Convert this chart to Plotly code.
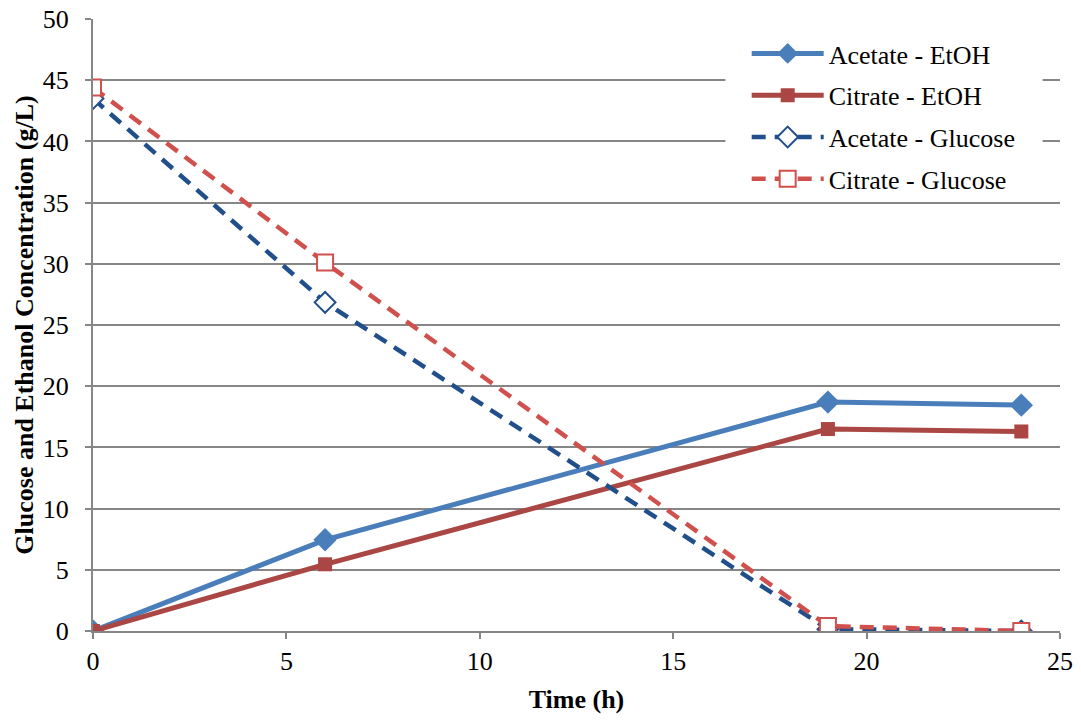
import plotly.graph_objects as go

time_h = [0, 6, 19, 24]
acetate_etoh = [0, 7.45, 18.7, 18.45]
citrate_etoh = [0, 5.45, 16.5, 16.3]
acetate_glucose = [43.5, 26.85, 0.15, 0]
citrate_glucose = [44.4, 30.1, 0.4, 0]
acetate_glucose_err = [0.3, 0.3, 0.1, 0]
citrate_glucose_err = [0.3, 0.3, 0.1, 0]

font_family = "Liberation Serif"
fs = 26

fig = go.Figure()
fig.add_trace(go.Scatter(
    x=time_h, y=acetate_etoh, name="Acetate - EtOH", mode="lines+markers",
    legendgroup="a",
    line=dict(color="#4A7EBB", width=5),
    marker=dict(symbol="diamond", size=18, color="#4A7EBB")))
fig.add_trace(go.Scatter(
    x=time_h, y=citrate_etoh, name="Citrate - EtOH", mode="lines+markers",
    legendgroup="b",
    line=dict(color="#AA4643", width=5),
    marker=dict(symbol="square", size=14, color="#AA4643")))
fig.add_trace(go.Scatter(
    x=time_h, y=acetate_glucose, name="Acetate - Glucose", mode="lines+markers",
    legendgroup="c",
    line=dict(color="#214F8B", width=4.5, dash="14px,9px"),
    marker=dict(symbol="diamond", size=16, color="white",
                line=dict(color="#214F8B", width=2)),
    error_y=dict(type="data", array=acetate_glucose_err, color="black", thickness=1.5, width=4)))
fig.add_trace(go.Scatter(
    x=time_h, y=citrate_glucose, name="Citrate - Glucose", mode="lines+markers",
    legendgroup="d",
    line=dict(color="#D0504D", width=4.5, dash="14px,9px"),
    marker=dict(symbol="square", size=16, color="white",
                line=dict(color="#D0504D", width=2)),
    error_y=dict(type="data", array=citrate_glucose_err, color="black", thickness=1.5, width=4)))

# white backdrop behind the legend (hides gridlines like the original)
fig.add_shape(type="rect", xref="x", yref="y", x0=16.35, x1=24.55, y0=35.2, y1=49.8,
              fillcolor="white", line=dict(width=0), layer="between")

fig.update_layout(
    width=1081, height=721,
    margin=dict(l=93, r=21, t=19, b=90),
    paper_bgcolor="white", plot_bgcolor="white",
    font=dict(family=font_family, size=fs, color="black"),
    legend=dict(x=0.676, y=0.982, xanchor="left", yanchor="top",
                bgcolor="rgba(0,0,0,0)", borderwidth=0,
                font=dict(size=fs, family=font_family, color="black"),
                traceorder="grouped", tracegroupgap=5, itemwidth=72),
    showlegend=True,
)
fig.update_xaxes(
    range=[0, 25], dtick=5, tick0=0, automargin=False,
    showgrid=False, showline=True, linecolor="#868686", linewidth=2,
    ticks="outside", ticklen=6, tickcolor="#868686", tickwidth=2,
    zeroline=False,
    title=dict(text="<b>Time (h)</b>", font=dict(size=fs, family=font_family), standoff=15),
    tickfont=dict(size=fs, family=font_family),
)
fig.update_yaxes(
    range=[0, 50], dtick=5, tick0=0, automargin=False,
    showgrid=True, gridcolor="#868686", gridwidth=2,
    showline=True, linecolor="#868686", linewidth=2,
    ticks="outside", ticklen=6, tickcolor="#868686", tickwidth=2,
    zeroline=False, ticklabelstandoff=11,
    title=dict(text="<b>Glucose and Ethanol Concentration (g/L)</b>", font=dict(size=fs, family=font_family), standoff=2),
    tickfont=dict(size=fs, family=font_family),
)

fig.write_html("out.html")
